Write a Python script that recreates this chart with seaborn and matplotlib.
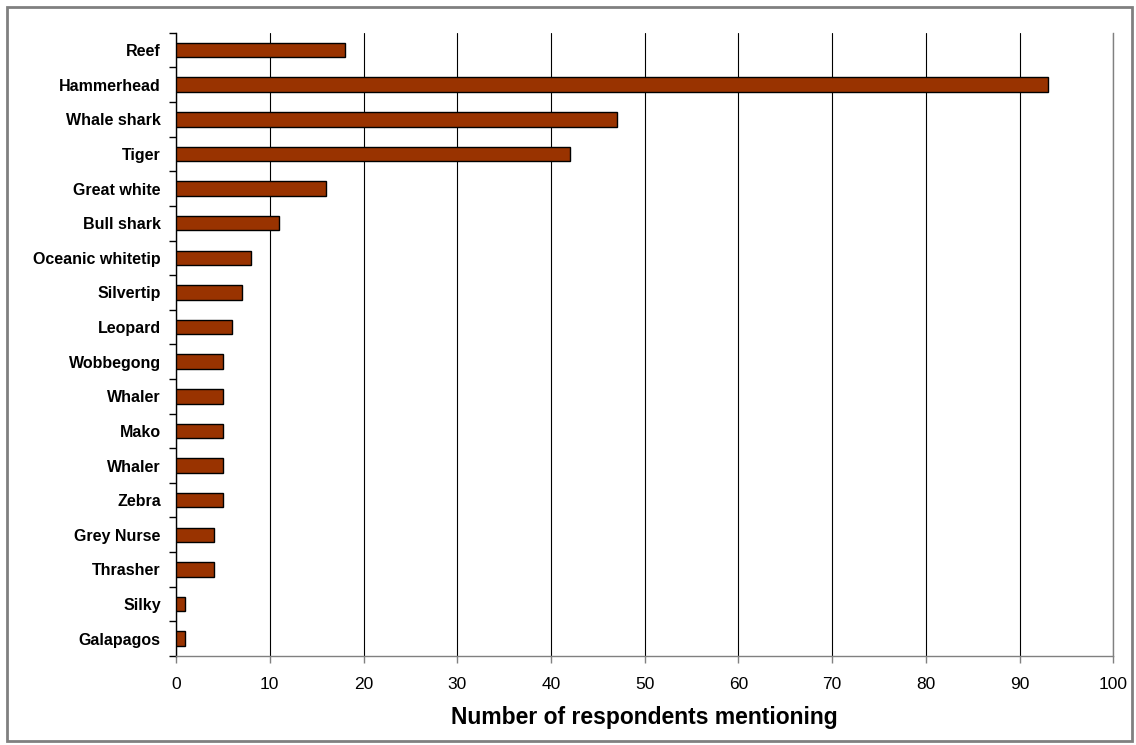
import pandas as pd
import matplotlib.pyplot as plt
import seaborn as sns
from matplotlib.ticker import MultipleLocator, FixedLocator
from matplotlib.patches import Rectangle

# shark species mentioned by respondents
species = ["Reef", "Hammerhead", "Whale shark", "Tiger", "Great white", "Bull shark",
           "Oceanic whitetip", "Silvertip", "Leopard", "Wobbegong", "Whaler", "Mako",
           "Whaler", "Zebra", "Grey Nurse", "Thrasher", "Silky", "Galapagos"]
mentions = [18, 93, 47, 42, 16, 11, 8, 7, 6, 5, 5, 5, 5, 5, 4, 4, 1, 1]

# "Whaler" shows up twice, so key rows by position
df = pd.DataFrame({"key": [str(i) for i in range(len(species))],
                   "species": species, "mentions": mentions})

sns.set_style("white")
plt.rcParams["font.family"] = ["Liberation Sans", "DejaVu Sans"]
plt.rcParams["text.color"] = "black"
plt.rcParams["xtick.color"] = "black"
plt.rcParams["ytick.color"] = "black"
plt.rcParams["axes.labelcolor"] = "black"

fig = plt.figure(figsize=(11.36, 7.45), dpi=100)
ax = fig.add_axes([0.155, 0.1195, 0.825, 0.8365])

sns.barplot(data=df, x="mentions", y="key", order=list(df["key"]), orient="h",
            color="#993300", saturation=1, width=0.42,
            edgecolor="black", linewidth=1.0, ax=ax, zorder=3)

ax.set_xlim(0, 100)
ax.set_ylim(len(species) - 0.5, -0.5)
ax.xaxis.set_major_locator(MultipleLocator(10))
ax.grid(axis="x", color="black", linewidth=0.8)
ax.set_axisbelow(True)

ax.set_yticks(range(len(species)))
ax.set_yticklabels(species, fontweight="bold", fontsize=11.5)
ax.yaxis.set_minor_locator(FixedLocator([i - 0.5 for i in range(len(species) + 1)]))
ax.tick_params(axis="y", which="major", length=0, pad=11)
ax.tick_params(axis="y", which="minor", length=5, width=1, color="black", direction="out", left=True)
ax.tick_params(axis="x", length=5, width=1, color="#808080", direction="out",
               labelsize=12.5, pad=10, bottom=True)

ax.spines["top"].set_visible(False)
ax.spines["right"].set_color("#808080")
ax.spines["right"].set_linewidth(1)
ax.spines["left"].set_color("black")
ax.spines["left"].set_linewidth(1)
ax.spines["bottom"].set_color("#808080")
ax.spines["bottom"].set_linewidth(1)

ax.set_ylabel("")
ax.set_xlabel("Number of respondents mentioning", fontsize=16.5, fontweight="bold", labelpad=10)

# grey frame around the whole chart
fig.patches.append(Rectangle((7 / 1136, 4 / 745), 1125 / 1136, 734 / 745, transform=fig.transFigure,
                             fill=False, edgecolor="#808080", linewidth=2))

fig.savefig("out.png", dpi=100)
